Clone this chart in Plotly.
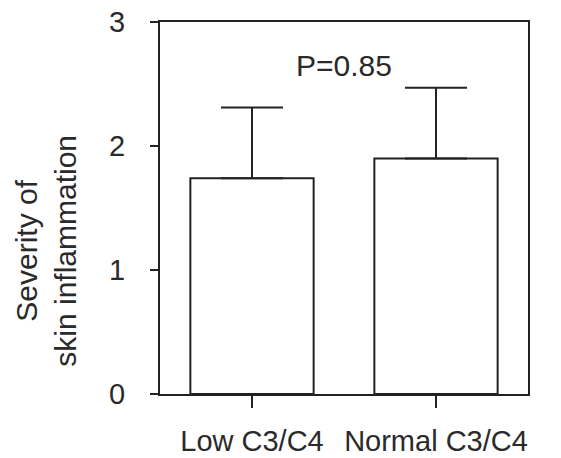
import plotly.graph_objects as go

categories = ["Low C3/C4", "Normal C3/C4"]
means = [1.74, 1.90]
errors_up = [0.57, 0.57]
y_ticks = [0, 1, 2, 3]
p_label = "P=0.85"
y_title = "Severity of<br>skin inflammation"

INK = "#222222"
TXT = "#2a2a2a"
FONT = "Arial, Liberation Sans, sans-serif"

fig = go.Figure()
fig.add_trace(go.Bar(
    x=categories, y=means, width=0.67,
    marker=dict(color="white", line=dict(color=INK, width=2)),
    error_y=dict(type="data", array=errors_up, arrayminus=[0] * len(means),
                 symmetric=False, width=31, thickness=2, color=INK),
    showlegend=False,
))

fig.add_annotation(x=0.5, y=2.65, xref="x", yref="y", text=p_label,
                   showarrow=False, font=dict(family=FONT, size=30, color=TXT))
fig.add_annotation(x=-0.31, y=0.385, xref="paper", yref="paper", text=y_title,
                   textangle=-90, showarrow=False, xanchor="center", yanchor="middle",
                   font=dict(family=FONT, size=30, color=TXT))

fig.update_layout(
    width=561, height=458,
    margin=dict(l=160, r=33, t=22, b=64),
    paper_bgcolor="white", plot_bgcolor="white",
    font=dict(family=FONT, size=28, color=TXT),
)
fig.update_xaxes(range=[-0.5, 1.5], showline=True, linecolor=INK, linewidth=2,
                 mirror=True, ticks="outside", ticklen=12, tickwidth=2, tickcolor=INK,
                 tickfont=dict(size=29), showgrid=False, ticklabelstandoff=8,
                 automargin=False, ticklabeloverflow="allow")
fig.update_yaxes(range=[0, 3], tickvals=y_ticks, showline=True, linecolor=INK, linewidth=2,
                 mirror=True, ticks="outside", ticklen=8, tickwidth=2, tickcolor=INK,
                 tickfont=dict(size=29), showgrid=False, zeroline=False, ticklabelstandoff=19,
                 automargin=False, ticklabeloverflow="allow")

fig.write_html("out.html", config={"displayModeBar": False},
               post_script="document.body.style.margin='0';document.body.style.overflow='hidden';")
